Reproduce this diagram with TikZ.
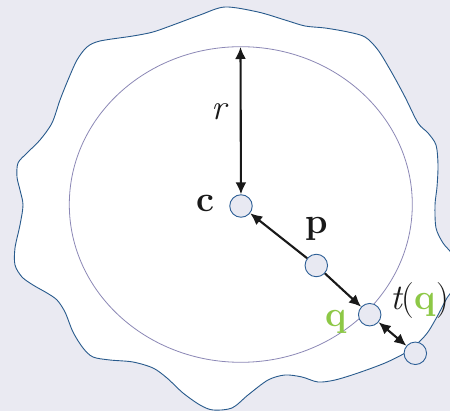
\documentclass[tikz,border=0pt]{standalone}
\usepackage{fontspec}
\usetikzlibrary{arrows.meta}
\definecolor{bgc}{RGB}{234,234,242}
\definecolor{blobc}{RGB}{40,90,140}
\definecolor{ringc}{RGB}{140,136,182}
\definecolor{dotfill}{RGB}{232,233,242}
\definecolor{dotline}{RGB}{45,95,150}
\definecolor{qgreen}{RGB}{141,200,70}
\definecolor{arrc}{RGB}{25,25,25}
\begin{document}
\begin{tikzpicture}[x=1pt,y=-1pt,
  dot/.style={circle, draw=dotline, fill=dotfill, line width=0.9pt, minimum size=22.5pt, inner sep=0pt},
  arr/.style={draw=arrc, line width=2.1pt, -{Latex[length=12pt,width=11pt]}},
  darr/.style={draw=arrc, line width=2.1pt, {Latex[length=12pt,width=11pt]}-{Latex[length=12pt,width=11pt]}},
  lbl/.style={inner sep=0pt, text=arrc, font=\fontsize{36}{40}\selectfont}
]
\fill[bgc] (0,0) rectangle (450,411);
\useasboundingbox (0,0) rectangle (450,411);
% wavy blob
\draw[blobc, fill=white, line width=0.9pt] plot[smooth cycle, tension=0.5] coordinates {
 (225,7) (258,12) (285,20) (305,26) (325,28) (348,32) (365,37) (378,50) (392,73)
 (405,97) (418,123) (428,133) (436,145) (438,165) (437,187) (435,205) (436,228)
 (443,243) (452,254) (462,275) (447,298) (438,315) (428,332) (418,343) (405,353)
 (385,363) (358,373) (335,380) (318,382) (302,377) (285,375) (268,380) (248,395)
 (232,408) (213,410) (200,405) (183,393) (167,378) (153,368) (133,362) (110,360)
 (93,357) (83,348) (73,332) (65,312) (57,300) (47,293) (33,285) (22,277) (15,265)
 (15,248) (20,225) (23,205) (20,190) (17,177) (18,163) (27,153) (40,140) (52,123)
 (60,100) (68,80) (77,60) (87,47) (100,41) (133,36) (153,32) (173,25) (200,15)};
% circle
\draw[ringc, line width=0.8pt] (240.8,204.5) ellipse [x radius=171.5, y radius=157.8];
\coordinate (rtop) at (240.5,47);
% points
\node[dot] (c) at (241,206) {};
\node[dot] (p) at (316.3,265.5) {};
\node[dot] (q) at (369.7,314.7) {};
\node[dot] (t) at (415.3,353.3) {};
% arrows
\draw[darr] (c) -- (rtop);
\draw[arr] (p) -- (c);
\draw[arr] (p) -- (q);
\draw[darr] (q) -- (t);
% labels
\node[lbl, anchor=base] (lc) at (205,212) {\bfseries c};
\node[lbl, anchor=base] (lp) at (317,234) {\bfseries p};
\node[lbl, anchor=base, text=qgreen] (lq) at (336,327) {\bfseries q};
\node[lbl, anchor=base] (lr) at (219,120) {\itshape r};
\node[lbl, anchor=base west] (ltq) at (390,310) {\itshape t\upshape(\textcolor{qgreen}{\bfseries q})};
\end{tikzpicture}
\end{document}
